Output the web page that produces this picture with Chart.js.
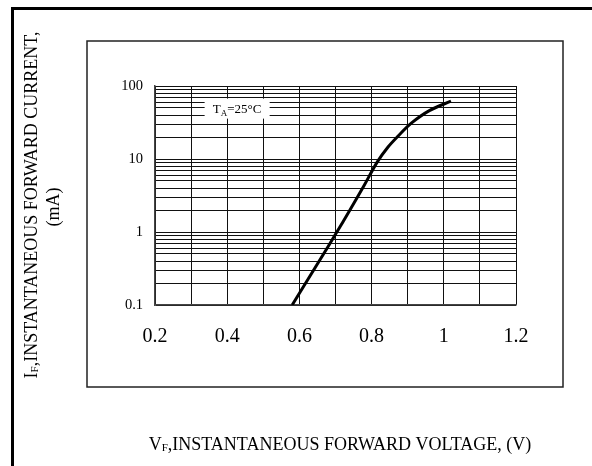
<!DOCTYPE html>
<html>
<head>
<meta charset="utf-8">
<script src="https://cdn.jsdelivr.net/npm/chart.js@4.4.0/dist/chart.umd.min.js"></script>
<style>
  html,body{margin:0;padding:0;background:#fff;}
  canvas{display:block;}
</style>
</head>
<body>
<canvas id="ivChart" width="592" height="466"></canvas>
<script>
// forward voltage (V) vs instantaneous forward current (mA)
const vf   = [0.58, 0.62, 0.66, 0.70, 0.74, 0.78, 0.815, 0.845, 0.875, 0.91, 0.96, 1.02];
const ifwd = [0.1, 0.21, 0.44, 0.93, 2.0, 4.4, 9.0, 14.5, 21, 31, 46, 62];

// x grid every 0.1 V, label every other one
const xGrid   = [0.2, 0.3, 0.4, 0.5, 0.6, 0.7, 0.8, 0.9, 1.0, 1.1, 1.2];
const xLabels = ["0.2", "", "0.4", "", "0.6", "", "0.8", "", "1", "", "1.2"];

// log y axis: decades with labels, minor lines at 1..9 of each decade
const yDecades = [0.1, 1, 10, 100];
const yLabels  = ["0.1", "1", "10", "100"];
const yMinor   = [1, 2, 3, 4, 5, 6, 7, 8, 9];

const tempNote = { x: 0.4275, y: 49 };  // centre of the T_A=25°C box, in data units

const SERIF = "'Liberation Serif', 'Times New Roman', serif";

let yGrid = [];
for (let i = 0; i < yDecades.length - 1; i++) {
  yMinor.forEach(m => yGrid.push(yDecades[i] * m));
}
yGrid.push(yDecades[yDecades.length - 1]);

// draw text made of pieces, some smaller / lowered (subscripts), centred on x
function drawParts(ctx, parts, x, y){
  let total = 0;
  parts.forEach(p => {
    ctx.font = p.size + "px " + SERIF;
    p.w = ctx.measureText(p.t).width;
    total += p.w;
  });
  let cx = x - total / 2;
  parts.forEach(p => {
    ctx.font = p.size + "px " + SERIF;
    ctx.fillText(p.t, cx, y + (p.dy || 0));
    cx += p.w;
  });
}

const framePlugin = {
  id: "frame",
  beforeDraw(chart){
    const ctx = chart.ctx;
    ctx.save();
    ctx.fillStyle = "#fff";
    ctx.fillRect(0, 0, chart.width, chart.height);
    // outer page frame (top + left only)
    ctx.fillStyle = "#000";
    ctx.fillRect(11, 7, 581, 3);
    ctx.fillRect(11, 7, 3, 459);
    // inner box
    ctx.strokeStyle = "#222";
    ctx.lineWidth = 1.5;
    ctx.strokeRect(87, 41, 476, 346);
    ctx.restore();
  },
  afterDatasetsDraw(chart){
    const ctx = chart.ctx;
    const xs = chart.scales.x, ys = chart.scales.y;
    ctx.save();
    ctx.fillStyle = "#000";
    ctx.textAlign = "left";
    ctx.textBaseline = "alphabetic";

    // T_A=25°C note
    const nx = xs.getPixelForValue(tempNote.x);
    const ny = ys.getPixelForValue(tempNote.y);
    ctx.fillStyle = "#fff";
    ctx.fillRect(nx - 32.5, ny - 10, 65, 20);
    ctx.fillStyle = "#000";
    drawParts(ctx, [
      {t: "T", size: 13},
      {t: "A", size: 9, dy: 2.5},
      {t: "=25°C", size: 13}
    ], nx, ny + 4.5);

    // x axis title
    drawParts(ctx, [
      {t: "V", size: 18},
      {t: "F", size: 11, dy: 1},
      {t: ",INSTANTANEOUS FORWARD VOLTAGE, (V)", size: 18}
    ], 340, 449.5);

    // y axis title, two rotated lines
    ctx.translate(37, 205);
    ctx.rotate(-Math.PI / 2);
    drawParts(ctx, [
      {t: "I", size: 18},
      {t: "F", size: 11, dy: 1},
      {t: ",INSTANTANEOUS FORWARD CURRENT,", size: 18}
    ], 0, 0);
    drawParts(ctx, [{t: "(mA)", size: 18}], -2, 21.5);
    ctx.restore();
  }
};

new Chart(document.getElementById("ivChart"), {
  type: "line",
  data: {
    datasets: [{
      data: vf.map((v, i) => ({x: v, y: ifwd[i]})),
      borderColor: "#000",
      borderWidth: 3,
      pointRadius: 0,
      tension: 0.35,
      fill: false
    }]
  },
  options: {
    responsive: false,
    animation: false,
    events: [],
    layout: { padding: { left: 0, top: 86, right: 76, bottom: 0 } },
    plugins: { legend: { display: false }, tooltip: { enabled: false } },
    scales: {
      x: {
        type: "linear",
        min: 0.2, max: 1.2,
        afterBuildTicks: s => { s.ticks = xGrid.map(v => ({value: v})); },
        afterFit: s => { s.height = 161; },
        ticks: {
          autoSkip: false, maxRotation: 0, padding: 20, color: "#000",
          font: {family: SERIF, size: 20},
          callback: (v, i) => xLabels[i]
        },
        grid: { color: "#111", lineWidth: 1, drawTicks: false },
        border: { color: "#444", width: 1.5 }
      },
      y: {
        type: "logarithmic",
        min: 0.1, max: 100,
        afterBuildTicks: s => { s.ticks = yGrid.map(v => ({value: v})); },
        afterFit: s => { s.width = 155; },
        ticks: {
          autoSkip: false, padding: 12, color: "#000",
          font: {family: SERIF, size: 14.5},
          callback: v => {
            const k = yDecades.indexOf(v);
            return k >= 0 ? yLabels[k] : "";
          }
        },
        grid: { color: "#111", lineWidth: 1, drawTicks: false },
        border: { color: "#444", width: 1.5 }
      }
    }
  },
  plugins: [framePlugin]
});
</script>
</body>
</html>
